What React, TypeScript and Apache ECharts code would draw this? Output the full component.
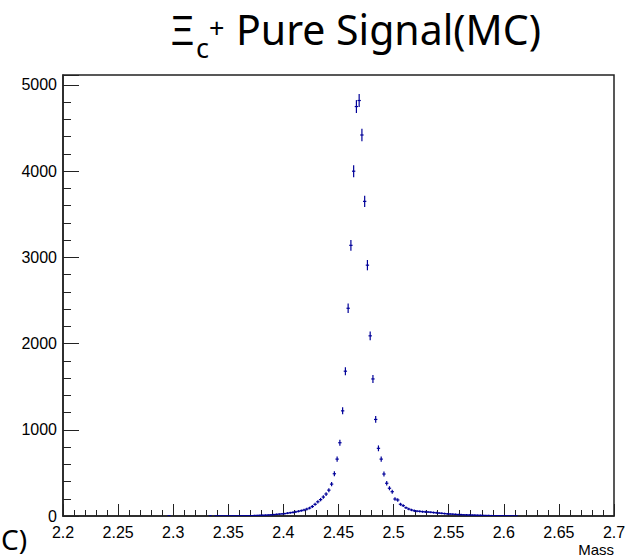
import React, { useEffect, useRef } from 'react';
import * as echarts from 'echarts';

// Histogram definition: 200 bins of 0.0025 GeV from 2.2 to 2.7
const massMin = 2.2;
const massMax = 2.7;
const binWidth = 0.0025;

// Bin contents (entries per bin)
const counts: number[] = [
  0, 0, 0, 0, 0, 0, 0, 0, 0, 0,
  0, 0, 0, 0, 0, 0, 0, 0, 0, 0,
  0, 0, 0, 0, 0, 0, 0, 0, 0, 0,
  0, 0, 0, 0, 0, 0, 0, 0, 1, 0,
  0, 0, 0, 0, 0, 0, 0, 0, 0, 0,
  0, 0, 0, 1, 0, 1, 1, 1, 1, 2,
  1, 2, 2, 2, 3, 3, 4, 4, 5, 6,
  7, 8, 9, 10, 12, 14, 16, 19, 22, 25,
  28, 33, 38, 42, 48, 55, 62, 70, 80, 92,
  110, 135, 165, 190, 220, 255, 300, 370, 490, 660,
  850, 1220, 1680, 2410, 3140, 4000, 4750, 4820, 4420, 3650,
  2910, 2090, 1590, 1120, 785, 660, 487, 380, 322, 282,
  197, 186, 136, 120, 96, 81, 70, 61, 56, 54,
  50, 48, 46, 44, 40, 37, 34, 31, 28, 25,
  23, 21, 19, 17, 16, 14, 13, 12, 11, 10,
  9, 8, 7, 6, 6, 5, 4, 4, 3, 3,
  2, 2, 1, 1, 1, 0, 0, 0, 0, 0,
  0, 0, 0, 0, 0, 0, 0, 0, 0, 0,
  0, 0, 0, 0, 0, 0, 0, 0, 0, 0,
  0, 0, 0, 0, 0, 0, 0, 0, 0, 0,
];

const xTickLabels = ['2.2', '2.25', '2.3', '2.35', '2.4', '2.45', '2.5', '2.55', '2.6', '2.65', '2.7'];
const yTickLabels = ['0', '1000', '2000', '3000', '4000', '5000'];
const yMax = 5116;

const markerColor = '#000099';
const tickFont = 'Liberation Sans';
const titleFont = 'Noto Sans';

export default function App() {
  const ref = useRef<HTMLDivElement>(null);

  useEffect(() => {
    if (!ref.current) return;
    const chart = echarts.init(ref.current, null, { renderer: 'svg' });

    const data = counts
      .map((c, i) => [massMin + (i + 0.5) * binWidth, c, Math.sqrt(c)])
      .filter((d) => d[1] > 0);

    const nearestLabel = (v: number, labels: string[]) => {
      for (const l of labels) {
        if (Math.abs(parseFloat(l) - v) < 1e-6 * Math.max(1, Math.abs(v))) return l;
      }
      return '';
    };

    chart.setOption({
      animation: false,
      backgroundColor: '#ffffff',
      grid: {
        left: 63,
        right: 17,
        top: 75,
        bottom: 43,
        show: true,
        borderColor: '#222',
        borderWidth: 1.5,
        backgroundColor: 'transparent',
      },
      xAxis: {
        type: 'value',
        min: massMin,
        max: massMax,
        interval: 0.05,
        axisLine: { show: true, lineStyle: { color: '#222', width: 1.5 } },
        axisTick: { show: true, inside: true, length: 12, lineStyle: { color: '#222', width: 1 } },
        minorTick: { show: true, splitNumber: 5, length: 6, lineStyle: { color: '#222', width: 1 } },
        splitLine: { show: false },
        minorSplitLine: { show: false },
        axisLabel: {
          margin: 8,
          color: '#000',
          fontFamily: tickFont,
          fontSize: 16,
          formatter: (v: number) => nearestLabel(v, xTickLabels),
        },
      },
      yAxis: [
        {
          type: 'value',
          min: 0,
          max: yMax,
          interval: 1000,
          axisLine: { show: true, lineStyle: { color: '#222', width: 1.5 } },
          axisTick: { show: true, inside: true, length: 16, lineStyle: { color: '#222', width: 1 } },
          splitLine: { show: false },
          axisLabel: {
            margin: 6,
            color: '#000',
            fontFamily: tickFont,
            fontSize: 16,
            formatter: (v: number) => nearestLabel(v, yTickLabels),
          },
        },
        {
          type: 'value',
          min: 0,
          max: yMax,
          interval: 200,
          position: 'left',
          axisLine: { show: false },
          axisTick: { show: true, inside: true, length: 8, lineStyle: { color: '#222', width: 1 } },
          splitLine: { show: false },
          axisLabel: { show: false },
        },
      ],
      series: [
        {
          type: 'custom',
          xAxisIndex: 0,
          yAxisIndex: 0,
          clip: true,
          encode: { x: 0, y: 1 },
          data,
          renderItem: (params: any, api: any) => {
            const x = api.value(0);
            const v = api.value(1);
            const e = api.value(2);
            const c = api.coord([x, v]);
            const top = api.coord([x, v + e]);
            const bot = api.coord([x, v - e]);
            const l = api.coord([x - binWidth / 2, v]);
            const r = api.coord([x + binWidth / 2, v]);
            const style = { stroke: markerColor, lineWidth: 1.2 };
            return {
              type: 'group',
              children: [
                { type: 'line', shape: { x1: c[0], y1: top[1] - 0.5, x2: c[0], y2: bot[1] + 0.5 }, style },
                { type: 'line', shape: { x1: l[0] - 0.3, y1: c[1], x2: r[0] + 0.3, y2: c[1] }, style },
              ],
            };
          },
        },
      ],
      graphic: [
        {
          type: 'text',
          x: 170,
          y: 29,
          style: { text: 'Ξ', fontFamily: titleFont, fontSize: 40, fill: '#000', align: 'left', verticalAlign: 'middle' },
        },
        {
          type: 'text',
          x: 196,
          y: 47,
          style: { text: 'c', fontFamily: titleFont, fontSize: 27, fill: '#000', align: 'left', verticalAlign: 'middle' },
        },
        {
          type: 'text',
          x: 209,
          y: 27,
          style: { text: '+', fontFamily: titleFont, fontSize: 27, fill: '#000', align: 'left', verticalAlign: 'middle' },
        },
        {
          type: 'text',
          x: 236,
          y: 29,
          style: { text: 'Pure Signal(MC)', fontFamily: titleFont, fontSize: 41, fill: '#000', align: 'left', verticalAlign: 'middle' },
        },
        {
          type: 'text',
          x: 1,
          y: 539,
          style: { text: 'C)', fontFamily: titleFont, fontSize: 28, fill: '#000', align: 'left', verticalAlign: 'middle' },
        },
        {
          type: 'text',
          x: 614,
          y: 549,
          style: { text: 'Mass', fontFamily: tickFont, fontSize: 15, fill: '#000', align: 'right', verticalAlign: 'middle' },
        },
      ],
    });

    return () => chart.dispose();
  }, []);

  return (
    <div
      ref={ref}
      style={{ position: 'fixed', left: 0, top: 0, width: 631, height: 559, background: '#fff' }}
    />
  );
}
